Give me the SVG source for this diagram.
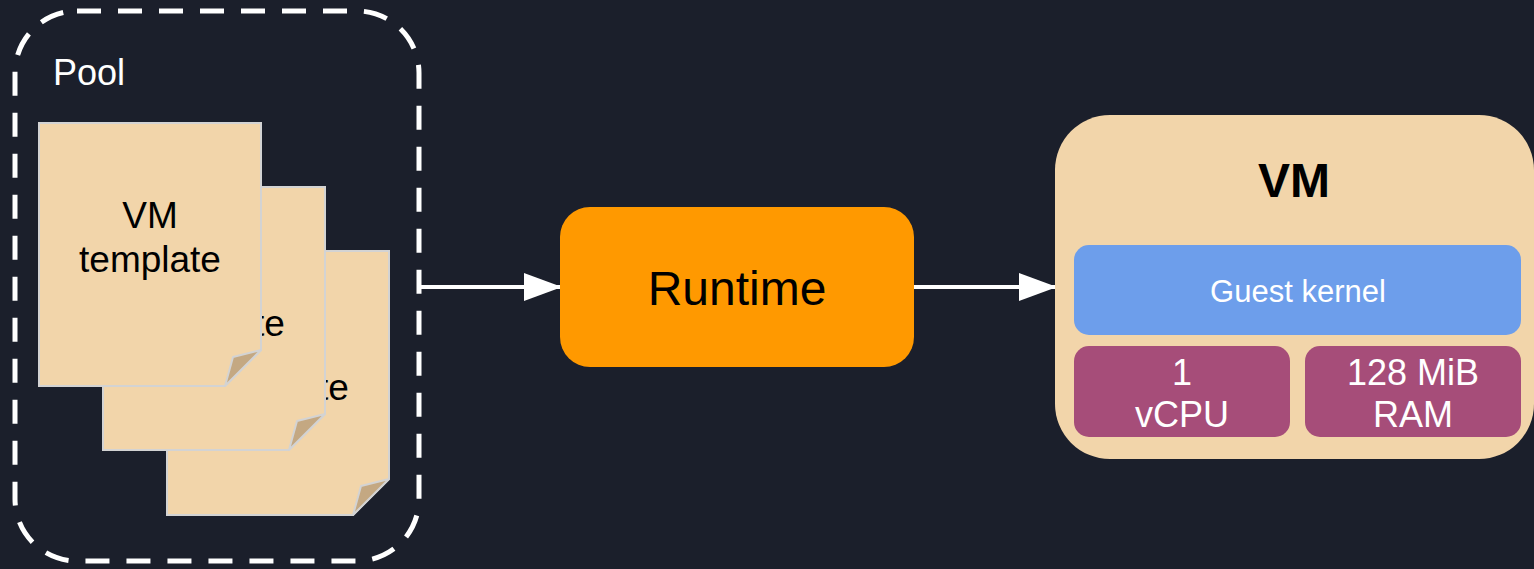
<svg xmlns="http://www.w3.org/2000/svg" width="1534" height="569" viewBox="0 0 1534 569">
<defs>
<style>
text{font-family:"Liberation Sans",Arial,sans-serif;}
.note{fill:#f2d5aa;stroke:#d3d3d3;stroke-width:2;}
.fold{fill:#c4a882;stroke:#d3d3d3;stroke-width:2;stroke-linejoin:round;}
.nt{font-size:37px;fill:#000;text-anchor:middle;}
.conn{stroke:#ffffff;stroke-width:4;fill:none;}
.sub{fill:#a64d79;}
.wt{fill:#fff;text-anchor:middle;font-size:36px;}
</style>
<marker id="arr" markerWidth="38" markerHeight="28" refX="36" refY="14" orient="auto" markerUnits="userSpaceOnUse">
<path d="M0,0 L38,14 L0,28 Z" fill="#fff"/>
</marker>
</defs>
<rect x="0" y="0" width="1534" height="569" fill="#1b1f2b"/>

<g id="pool">
<rect x="15" y="11" width="404" height="550" rx="62" ry="62" fill="none" stroke="#fff" stroke-width="5" stroke-dasharray="24 17"/>
<text x="53" y="85" font-size="36" fill="#fff" font-family="Liberation Sans, Arial, sans-serif">Pool</text>
</g>

<g id="note3">
<path class="note" d="M167,251 H389 V479 L353,515 H167 Z"/>
<path class="fold" d="M389,479 L353,515 L361,486 Z"/>
<text class="nt" x="278" y="356" font-family="Liberation Sans, Arial, sans-serif">VM</text>
<text class="nt" x="278" y="400" font-family="Liberation Sans, Arial, sans-serif">template</text>
</g>
<g id="note2">
<path class="note" d="M103,187 H325 V414 L289,450 H103 Z"/>
<path class="fold" d="M325,414 L289,450 L297,421 Z"/>
<text class="nt" x="214" y="292" font-family="Liberation Sans, Arial, sans-serif">VM</text>
<text class="nt" x="214" y="336" font-family="Liberation Sans, Arial, sans-serif">template</text>
</g>
<g id="note1">
<path class="note" d="M39,123 H261 V350 L225,386 H39 Z"/>
<path class="fold" d="M261,350 L225,386 L233,357 Z"/>
<text class="nt" x="150" y="228" font-family="Liberation Sans, Arial, sans-serif">VM</text>
<text class="nt" x="150" y="272" font-family="Liberation Sans, Arial, sans-serif">template</text>
</g>

<g id="connectors">
<line class="conn" x1="419" y1="287" x2="560" y2="287" marker-end="url(#arr)"/>
<line class="conn" x1="914" y1="287" x2="1055" y2="287" marker-end="url(#arr)"/>
</g>

<g id="runtime">
<rect x="560" y="207" width="354" height="160" rx="30" ry="30" fill="#ff9900"/>
<text x="737" y="305" font-size="48" text-anchor="middle" fill="#000" font-family="Liberation Sans, Arial, sans-serif">Runtime</text>
</g>

<g id="vm">
<rect x="1055" y="115" width="479" height="344" rx="55" ry="55" fill="#f2d5aa"/>
<text x="1294" y="197" font-size="48" font-weight="bold" text-anchor="middle" fill="#000" font-family="Liberation Sans, Arial, sans-serif">VM</text>
</g>
<g id="guest-kernel">
<rect x="1074" y="245" width="447" height="90" rx="15" ry="15" fill="#6d9eeb"/>
<text class="wt" x="1298" y="302" style="font-size:31px" font-family="Liberation Sans, Arial, sans-serif">Guest kernel</text>
</g>
<g id="vcpu">
<rect class="sub" x="1074" y="346" width="216" height="91" rx="15" ry="15"/>
<text class="wt" x="1182" y="385" font-family="Liberation Sans, Arial, sans-serif">1</text>
<text class="wt" x="1182" y="427" font-family="Liberation Sans, Arial, sans-serif">vCPU</text>
</g>
<g id="ram">
<rect class="sub" x="1305" y="346" width="216" height="91" rx="15" ry="15"/>
<text class="wt" x="1413" y="385" font-family="Liberation Sans, Arial, sans-serif">128 MiB</text>
<text class="wt" x="1413" y="427" font-family="Liberation Sans, Arial, sans-serif">RAM</text>
</g>
</svg>
